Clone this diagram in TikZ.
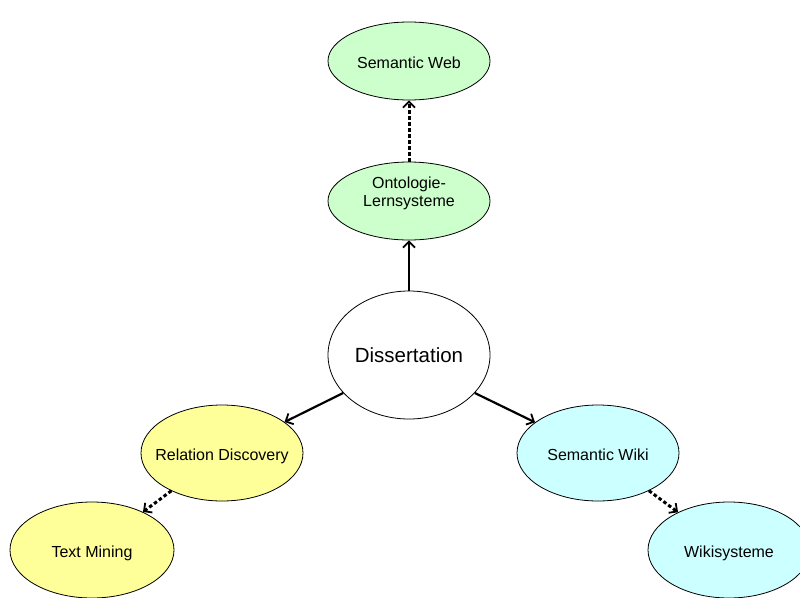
\documentclass[tikz,border=0pt]{standalone}
\usepackage{fontspec}
\setmainfont{Liberation Sans}
\usetikzlibrary{arrows.meta,shapes.geometric}
\definecolor{webgreen}{RGB}{204,255,204}
\definecolor{wikicyan}{RGB}{204,255,255}
\definecolor{minyellow}{RGB}{255,255,153}
\begin{document}
\begin{tikzpicture}[x=1pt,y=-1pt,
  topic/.style={draw=black,line width=0.8pt,ellipse,inner sep=-20pt,
    minimum width=162pt,minimum height=96pt,font=\fontsize{16}{18}\selectfont,
    align=center,text height=16pt,text depth=2pt},
  link/.style={line width=2.2pt,-{Straight Barb[length=6pt,width=12pt,line width=1.8pt]}},
  weak/.style={link,line width=3pt,dash pattern=on 3.5pt off 2.5pt}]
\useasboundingbox (0,0) rectangle (800,597);
\node[topic,fill=webgreen,minimum height=78pt] (web) at (409,61) {Semantic Web};
\node[topic,fill=webgreen,minimum height=78pt,
  label={[name=ontotext,align=center,font=\fontsize{16}{18}\selectfont,yshift=8pt]center:Ontologie-\\Lernsysteme}] (onto) at (409,201) {};
\node[topic,fill=white,minimum height=128pt,font=\fontsize{20.5}{24}\selectfont,
  text height=15pt,text depth=0pt] (diss) at (409,355) {Dissertation};
\node[topic,fill=minyellow] (rel) at (222,453) {Relation Discovery};
\node[topic,fill=minyellow,minimum width=164pt] (tm) at (92,550) {Text Mining};
\node[topic,fill=wikicyan] (swiki) at (598,453) {Semantic Wiki};
\node[topic,fill=wikicyan] (wsys) at (729,550) {Wikisysteme};
\draw[link] (diss) -- (onto);
\draw[weak] (onto) -- (web);
\draw[link] (diss.-150) -- (rel);
\draw[link] (diss.-30) -- (swiki);
\draw[weak] (rel) -- (tm);
\draw[weak] (swiki) -- (wsys);
\end{tikzpicture}
\end{document}
